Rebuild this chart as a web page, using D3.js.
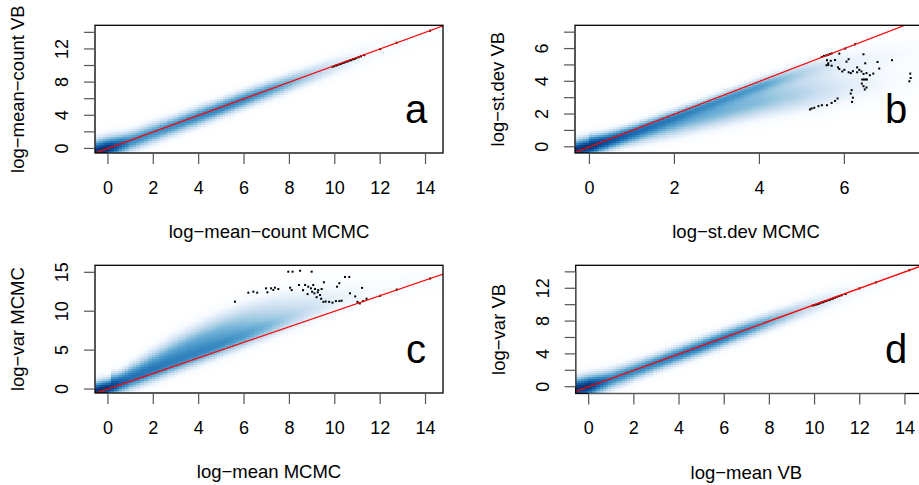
<!DOCTYPE html>
<html><head><meta charset="utf-8">
<script src="https://cdn.jsdelivr.net/npm/d3@7"></script>
<style>
body{margin:0;background:#fff}
svg{display:block}
text{font-family:"Liberation Sans",Arial,Helvetica,sans-serif;fill:#000}
</style>
</head><body>
<svg id="chart" width="919" height="485"></svg>
<script>
// ================= DATA =================
// smoothScatter colour ramp (white + blues9)
const rampColors = ["#FFFFFF","#F7FBFF","#DEEBF7","#C6DBEF","#9ECAE1","#6BAED6","#4292C6","#2171B5","#08519C","#08306B"];

// --- panel a: log-mean-count MCMC vs VB : density ridge (x knot, centre, spread, intensity)
const aRidgeX = [-0.6, 0, 0.5, 1, 2, 3, 4, 5, 6, 7, 8, 9, 10, 11, 12, 13, 14.8];
const aRidgeC = [-0.4, 0.0, 0.4, 0.85, 1.85, 2.85, 3.85, 4.85, 5.9, 6.9, 7.9, 8.9, 9.9, 10.9, 11.9, 12.9, 14.6];
const aRidgeS = [1.0, 1.0, 0.95, 0.9, 0.9, 0.85, 0.85, 0.8, 0.8, 0.8, 0.8, 0.8, 0.9, 1.0, 1.0, 1.0, 1.0];
const aRidgeI = [0.98, 1.0, 0.85, 0.7, 0.66, 0.68, 0.7, 0.72, 0.7, 0.64, 0.54, 0.4, 0.26, 0.16, 0.11, 0.07, 0.05];
const aPtsX = [9.9, 9.97, 10.05, 10.12, 10.2, 10.27, 10.35, 10.42, 10.5, 10.57, 10.65, 10.72, 10.8, 10.88, 10.95, 11.05, 11.15, 11.3, 12.0, 12.73, 14.2];
const aPtsY = [9.85, 9.92, 10.0, 10.05, 10.15, 10.2, 10.3, 10.35, 10.45, 10.5, 10.6, 10.65, 10.75, 10.8, 10.9, 11.0, 11.1, 11.25, 11.97, 12.75, 14.2];

// --- panel b: log-st.dev MCMC vs VB : ridge along identity + broad lower band
const bRidgeX = [-0.4, 0, 0.5, 1, 2, 3, 4, 5, 6, 7.9];
const bRidgeC = [-0.25, 0.0, 0.4, 0.85, 1.8, 2.75, 3.7, 4.55, 5.3, 6.0];
const bRidgeS = [0.45, 0.45, 0.38, 0.33, 0.3, 0.3, 0.32, 0.4, 0.5, 0.6];
const bRidgeI = [0.98, 1.0, 0.82, 0.66, 0.58, 0.56, 0.53, 0.32, 0.14, 0.08];
const bLowX = [0.3, 1, 2, 3, 4, 5, 6, 7, 7.9];
const bLowC = [0.25, 0.65, 1.35, 2.05, 2.75, 3.25, 3.65, 4.0, 4.2];
const bLowS = [0.35, 0.45, 0.55, 0.62, 0.7, 0.8, 0.9, 0.95, 0.95];
const bLowI = [0.35, 0.48, 0.53, 0.53, 0.5, 0.38, 0.22, 0.12, 0.07];
const bPtsX = [5.47,5.52,5.57,5.62,5.66,5.7,5.88,6.02,6.25,6.45,6.49,5.59,5.62,5.68,5.58,5.62,5.7,5.78,5.85,5.88,5.95,6.0,6.1,6.15,6.2,6.3,6.35,6.4,6.45,6.52,6.1,6.6,6.68,6.78,6.82,7.12,6.42,6.46,6.5,6.53,6.41,6.45,6.52,6.48,6.17,6.15,6.2,6.18,5.84,5.78,5.7,5.59,5.47,5.39,5.29,5.23,5.19,7.55,7.56,7.53,6.3,6.05];
const bPtsY = [5.49,5.55,5.58,5.62,5.66,5.7,5.69,6.0,6.26,5.65,5.1,5.29,5.1,5.25,4.98,5.0,4.95,5.3,4.85,4.75,4.6,4.7,4.55,4.5,4.62,4.55,4.7,4.6,4.45,4.5,5.35,4.37,4.47,5.18,4.78,5.29,4.11,4.11,4.11,4.11,3.86,3.7,3.62,3.5,3.46,3.25,3.0,2.74,2.95,2.8,2.68,2.54,2.54,2.48,2.38,2.34,2.28,4.47,4.2,4.0,4.85,5.2];

// --- panel c: log-mean MCMC vs log-var MCMC : ridge just above identity + broad upper band
const cRidgeX = [-0.6, 0, 0.5, 1, 2, 3, 4, 5, 6, 7, 8, 9, 10, 12, 14.8];
const cRidgeC = [-0.3, 0.1, 0.65, 1.2, 2.3, 3.4, 4.5, 5.6, 6.7, 7.8, 8.9, 10.0, 11.0, 12.8, 14.6];
const cRidgeS = [0.9, 0.9, 0.9, 0.9, 0.9, 0.9, 0.9, 0.9, 0.9, 0.9, 0.95, 1.0, 1.0, 1.0, 1.0];
const cRidgeI = [0.98, 1.0, 0.78, 0.6, 0.56, 0.56, 0.56, 0.54, 0.47, 0.37, 0.26, 0.17, 0.1, 0.05, 0.03];
const cUpX = [0.5, 1, 2, 3, 4, 5, 6, 7, 8, 9, 10, 11, 12, 14.8];
const cUpC = [1.0, 1.8, 3.3, 4.8, 6.1, 7.3, 8.4, 9.4, 10.4, 11.3, 12.2, 12.9, 13.4, 14.0];
const cUpS = [0.9, 1.1, 1.35, 1.5, 1.6, 1.7, 1.8, 1.8, 1.8, 1.8, 1.7, 1.6, 1.5, 1.4];
const cUpI = [0.4, 0.5, 0.55, 0.56, 0.56, 0.52, 0.45, 0.36, 0.26, 0.18, 0.12, 0.08, 0.05, 0.03];
const cPtsX = [5.6,7.95,8.14,8.47,8.98,6.19,6.41,6.58,6.97,7.19,7.29,7.36,7.51,7.03,8.03,8.1,8.42,8.69,8.83,8.95,9.05,9.13,9.27,9.42,9.25,9.35,9.52,9.1,9.2,9.4,9.5,9.6,9.75,9.9,10.05,10.2,10.3,10.1,10.2,10.45,10.64,10.67,11.2,10.9,11.0,11.1,11.25,11.4,12.0,12.73,14.2,8.6,8.8,9.0];
const cPtsY = [11.22,15.08,15.08,15.2,15.08,12.38,12.51,12.38,12.94,12.94,12.72,13.02,12.85,12.43,13.02,12.72,13.37,13.37,13.15,12.94,13.37,12.85,12.72,12.85,12.43,12.08,13.72,12.3,11.8,11.6,11.2,11.25,11.2,11.1,11.3,11.3,11.35,13.15,13.6,14.4,14.4,12.3,13.0,11.9,11.2,11.0,11.3,11.6,11.98,12.78,14.2,12.7,12.2,12.5];

// --- panel d: log-mean VB vs log-var VB
const dRidgeX = [-0.6, 0, 0.5, 1, 2, 3, 4, 5, 6, 7, 8, 9, 10, 11, 12, 13, 14.8];
const dRidgeC = [-0.4, 0.0, 0.4, 0.85, 1.85, 2.85, 3.85, 4.85, 5.9, 6.9, 7.9, 8.9, 9.9, 10.9, 11.9, 12.9, 14.6];
const dRidgeS = [1.0, 1.0, 0.95, 0.9, 0.85, 0.8, 0.8, 0.8, 0.8, 0.8, 0.8, 0.8, 0.9, 1.0, 1.0, 1.0, 1.0];
const dRidgeI = [0.98, 1.0, 0.85, 0.72, 0.7, 0.72, 0.74, 0.76, 0.74, 0.68, 0.56, 0.42, 0.28, 0.18, 0.12, 0.08, 0.05];
const dPtsX = [9.92, 10.0, 10.08, 10.15, 10.22, 10.3, 10.38, 10.45, 10.52, 10.6, 10.68, 10.75, 10.82, 10.9, 11.0, 11.1, 11.2, 11.38, 11.98, 12.72, 14.19];
const dPtsY = [9.9, 9.95, 10.02, 10.08, 10.15, 10.25, 10.3, 10.4, 10.45, 10.55, 10.6, 10.7, 10.75, 10.85, 10.95, 11.05, 11.15, 11.3, 11.98, 12.72, 14.2];

// tick values
const ticksEven14 = [0, 2, 4, 6, 8, 10, 12, 14];
const labelsY14 = [0, 4, 8, 12];
const ticksB_X = [0, 2, 4, 6];
const ticksB_Y = [0, 1, 2, 3, 4, 5, 6, 7];
const labelsB_Y = [0, 2, 4, 6];
const ticksC_Y = [0, 5, 10, 15];

// ================= LAYOUT =================
const M = "\u2212";
const panels = [
  { letter: "a", box: {l: 95, r: 443, t: 25.3, b: 153}, xd: [-0.57, 14.77], yd: [-0.55, 14.85],
    comps: [[aRidgeX, aRidgeC, aRidgeS, aRidgeI]], px: aPtsX, py: aPtsY,
    xt: ticksEven14, xl: ticksEven14, yt: ticksEven14, yl: labelsY14,
    xlab: "log"+M+"mean"+M+"count MCMC", ylab: "log"+M+"mean"+M+"count VB" },
  { letter: "b", box: {l: 575, r: 923, t: 25.3, b: 153}, xd: [-0.34, 7.85], yd: [-0.38, 7.42],
    comps: [[bRidgeX, bRidgeC, bRidgeS, bRidgeI], [bLowX, bLowC, bLowS, bLowI]], px: bPtsX, py: bPtsY,
    xt: ticksB_X, xl: ticksB_X, yt: ticksB_Y, yl: labelsB_Y,
    xlab: "log"+M+"st.dev MCMC", ylab: "log"+M+"st.dev VB" },
  { letter: "c", box: {l: 95, r: 443, t: 265.3, b: 393}, xd: [-0.57, 14.77], yd: [-0.51, 15.9],
    comps: [[cRidgeX, cRidgeC, cRidgeS, cRidgeI], [cUpX, cUpC, cUpS, cUpI]], px: cPtsX, py: cPtsY,
    xt: ticksEven14, xl: ticksEven14, yt: ticksC_Y, yl: ticksC_Y,
    xlab: "log"+M+"mean MCMC", ylab: "log"+M+"var MCMC" },
  { letter: "d", box: {l: 575.7, r: 923, t: 265.3, b: 393.5}, xd: [-0.574, 14.8], yd: [-0.83, 14.8],
    comps: [[dRidgeX, dRidgeC, dRidgeS, dRidgeI]], px: dPtsX, py: dPtsY,
    xt: ticksEven14, xl: ticksEven14, yt: ticksEven14, yl: labelsY14,
    xlab: "log"+M+"mean VB", ylab: "log"+M+"var VB" }
];

const svg = d3.select("#chart");
const ramp = d3.scaleLinear().domain(d3.range(rampColors.length).map(i => i/(rampColors.length-1))).range(rampColors).clamp(true);
const NX = 128, NY = 64;
const tickCol = "#555", tickLen = 11;

panels.forEach((p, pi) => {
  const B = p.box;
  const x = d3.scaleLinear().domain(p.xd).range([B.l, B.r]);
  const y = d3.scaleLinear().domain(p.yd).range([B.b, B.t]);
  const g = svg.append("g");
  const clipId = "clip" + pi;
  g.append("clipPath").attr("id", clipId).append("rect")
    .attr("x", B.l).attr("y", B.t).attr("width", B.r - B.l).attr("height", B.b - B.t);
  const plot = g.append("g").attr("clip-path", `url(#${clipId})`);

  const comps = p.comps.map(([kx, kc, ks, ki]) => ({
    c: d3.scaleLinear().domain(kx).range(kc).clamp(true),
    s: d3.scaleLinear().domain(kx).range(ks).clamp(true),
    a: d3.scaleLinear().domain(kx).range(ki).clamp(true),
    lo: kx[0] - 0.3, hi: kx[kx.length-1] + 0.3
  }));
  // combine components (probabilistic OR so overlapping bands merge smoothly)
  const dens = (xv, yv) => {
    let rest = 1;
    comps.forEach(cp => {
      if (xv < cp.lo || xv > cp.hi) return;
      const z = (yv - cp.c(xv)) / cp.s(xv);
      rest *= 1 - cp.a(xv) * Math.exp(-0.5 * z * z);
    });
    return Math.min(1, 1 - rest);
  };
  const dx = (p.xd[1] - p.xd[0]) / NX, dy = (p.yd[1] - p.yd[0]) / NY;
  const xb = d3.range(NX + 1).map(i => Math.round(x(p.xd[0] + i*dx)));
  const yb = d3.range(NY + 1).map(j => Math.round(y(p.yd[0] + j*dy)));
  const cells = [];
  for (let i = 0; i < NX; i++) for (let j = 0; j < NY; j++) {
    const v = dens(p.xd[0] + (i + 0.5)*dx, p.yd[0] + (j + 0.5)*dy);
    if (v > 0.012) cells.push({i, j, v});
  }
  plot.append("g").attr("shape-rendering", "crispEdges").selectAll("rect").data(cells).join("rect")
    .attr("x", d => xb[d.i])
    .attr("y", d => yb[d.j + 1])
    .attr("width", d => xb[d.i + 1] - xb[d.i])
    .attr("height", d => yb[d.j] - yb[d.j + 1])
    .attr("fill", d => ramp(d.v));

  // outlier points
  plot.append("g").selectAll("rect").data(d3.range(p.px.length)).join("rect")
    .attr("x", i => x(p.px[i]) - 1).attr("y", i => y(p.py[i]) - 1)
    .attr("width", 2).attr("height", 2).attr("fill", "#000");

  // identity line
  const lo = Math.min(p.xd[0], p.yd[0]) - 1, hi = Math.max(p.xd[1], p.yd[1]) + 1;
  plot.append("line").attr("x1", x(lo)).attr("y1", y(lo)).attr("x2", x(hi)).attr("y2", y(hi))
    .attr("stroke", "#ff0000").attr("stroke-width", 1.2);

  // box
  g.append("rect").attr("x", B.l).attr("y", B.t).attr("width", B.r - B.l).attr("height", B.b - B.t)
    .attr("fill", "none").attr("stroke", "#000").attr("stroke-width", 1.3);

  // x axis
  g.append("line").attr("x1", x(p.xt[0])).attr("x2", x(p.xt[p.xt.length-1]))
    .attr("y1", B.b).attr("y2", B.b).attr("stroke", tickCol).attr("stroke-width", 1.2);
  g.selectAll(null).data(p.xt).join("line")
    .attr("x1", d => x(d)).attr("x2", d => x(d)).attr("y1", B.b).attr("y2", B.b + tickLen)
    .attr("stroke", tickCol).attr("stroke-width", 1.2);
  g.selectAll(null).data(p.xl).join("text")
    .attr("x", d => x(d)).attr("y", B.b + 40.5).attr("text-anchor", "middle")
    .attr("font-size", 18).text(d => d);
  // y axis
  g.append("line").attr("y1", y(p.yt[0])).attr("y2", y(p.yt[p.yt.length-1]))
    .attr("x1", B.l).attr("x2", B.l).attr("stroke", tickCol).attr("stroke-width", 1.2);
  g.selectAll(null).data(p.yt).join("line")
    .attr("y1", d => y(d)).attr("y2", d => y(d)).attr("x1", B.l).attr("x2", B.l - tickLen)
    .attr("stroke", tickCol).attr("stroke-width", 1.2);
  g.selectAll(null).data(p.yl).join("text")
    .attr("transform", d => `translate(${B.l - 27},${y(d)}) rotate(-90)`)
    .attr("text-anchor", "middle").attr("font-size", 18).text(d => d);

  // axis titles
  g.append("text").attr("x", (B.l + B.r) / 2 + (pi % 2 ? -3 : 0)).attr("y", B.b + 85)
    .attr("text-anchor", "middle").attr("font-size", 18.5).text(p.xlab);
  g.append("text").attr("transform", `translate(${B.l - 71},${(B.t + B.b) / 2}) rotate(-90)`)
    .attr("text-anchor", "middle").attr("font-size", 18.5).text(p.ylab);

  // panel letter
  g.append("text").attr("x", B.r - 27).attr("y", B.b - 30.5).attr("text-anchor", "middle")
    .attr("font-size", 40).text(p.letter);
});
</script>
</body></html>
